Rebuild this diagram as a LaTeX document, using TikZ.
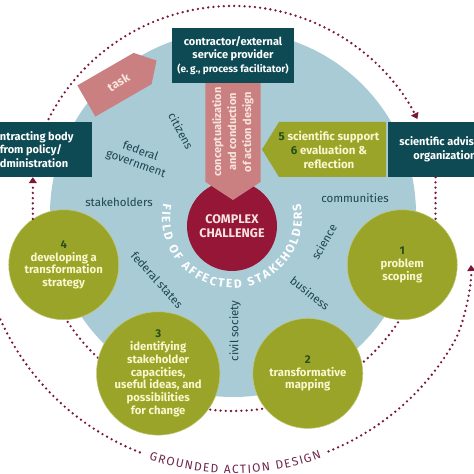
\documentclass[tikz,border=0pt]{standalone}
\usepackage{fontspec}
\setmainfont{Fira Sans}
\usetikzlibrary{positioning, arrows.meta, decorations.text}

\definecolor{fieldblue}{RGB}{168,203,214}
\definecolor{boxteal}{RGB}{14,74,84}
\definecolor{stepolive}{RGB}{154,164,40}
\definecolor{numgreen}{RGB}{38,78,30}
\definecolor{creamtext}{RGB}{250,246,205}
\definecolor{arrowpink}{RGB}{202,128,128}
\definecolor{pinktext}{RGB}{248,228,222}
\definecolor{challengered}{RGB}{150,22,56}
\definecolor{dotmaroon}{RGB}{122,24,56}
\definecolor{labelteal}{RGB}{28,68,82}
\definecolor{designtext}{RGB}{112,40,76}

\newcommand\stepnum[1]{\textcolor{numgreen}{#1}}

\begin{document}
\begin{tikzpicture}[x=1pt, y=1pt,
    tealbox/.style={fill=boxteal, text=white, font=\bfseries\fontsize{11}{13.5}\selectfont, align=center, minimum height=55, inner sep=0},
    stepcircle/.style={circle, fill=stepolive, draw=stepolive!60!white, line width=0.5pt, minimum size=110, inner sep=0, text=creamtext, align=center, font=\bfseries\fontsize{11.3}{12.8}\selectfont},
    actor/.style={text=labelteal, font=\fontsize{11.5}{13}\selectfont, align=center, inner sep=1},
    dotline/.style={dotmaroon, line width=2.6pt, line cap=round, dash pattern=on 0pt off 5.2pt},
    dottip/.style={-{Triangle[width=8pt,length=6pt]}}]
    \useasboundingbox (-233,-261) rectangle (241,213);
    \clip (-233,-261) rectangle (241,213);
    \fill[fieldblue] (0,-1) circle (183);
    \foreach \a/\b in {-17/-65, -65/-115, -115/-163}
    {
    \draw[dotline] (\a:198) arc[start angle=\a, end angle=\b, radius=198];
    }
    \draw[dotline, dottip] (153:207) arc[start angle=153, end angle=27, radius=207];
    \draw[dotline, shift={(0,-2)}] (196:255) arc[start angle=196, end angle=249, radius=255];
    \draw[dotline, dottip, shift={(0,-2)}] (292:255) arc[start angle=292, end angle=330, radius=255] .. controls (231,-110) and (239,-70) .. (238,-50);
    \path[shift={(0,-2)}, decorate, decoration={text along path, text align={fit to path}, text color=designtext, text={|\fontsize{12}{14}\selectfont|GROUNDED ACTION DESIGN}}] (251:258.5) arc[start angle=251, end angle=290, radius=258.5];

    \node[circle, fill=challengered, minimum size=90, inner sep=0, text=pinktext, align=center, font=\bfseries\fontsize{12.5}{14}\selectfont] (core) at (-1,-13) {COMPLEX\\CHALLENGE};
    \fill[arrowpink] (-27.5,130) -- (27.5,130) -- (27.5,31) -- (0,13) -- (-27.5,31) -- cycle;
    \node[rotate=90, text=pinktext, align=center, font=\bfseries\fontsize{11}{15}\selectfont] (design) at (0,81) {conceptualization\\and conduction\\of action design};
    \path[shift={(-1,-5)}, decorate, decoration={text along path, text align={fit to path}, text color=white, text={|\bfseries\fontsize{12}{14}\selectfont|FIELD OF AFFECTED STAKEHOLDERS}}] (168:70) arc[start angle=168, end angle=372, radius=70];

    \fill[stepolive] (153,91) -- (46,91) -- (29,63.5) -- (46,36) -- (153,36) -- cycle;
    \node[text=creamtext, align=center, font=\bfseries\fontsize{11.5}{14}\selectfont] (support) at (96,63) {\stepnum{5} scientific support\\\stepnum{6} evaluation \&\\reflection};
    \node[tealbox, minimum width=122] (contr) at (0,157.5) {contractor/external\\service provider\\{\fontsize{10}{12}\selectfont(e.\,g., process facilitator)}};
    \node[tealbox, minimum width=122] (cbody) at (-202,63.5) {contracting body\\from policy/\\administration};
    \node[tealbox, minimum width=114] (sadv) at (212,63.5) {scientific advisory\\organization};

    \begin{scope}[shift={(-112,132)}, rotate=30]
    \fill[arrowpink] (-40,-18) -- (25,-18) -- (41,0) -- (25,18) -- (-40,18) -- cycle;
    \node[rotate=30, text=pinktext, font=\bfseries\fontsize{12}{13}\selectfont] (task) at (-3,0) {task};
    \end{scope}

    \node[stepcircle] (s1) at (-17:177) {\stepnum{1}\\problem\\scoping};
    \node[stepcircle] (s2) at (-65:177) {\stepnum{2}\\transformative\\mapping};
    \node[stepcircle] (s3) at (-115:177) {\stepnum{3}\\identifying\\stakeholder\\capacities,\\useful ideas, and\\possibilities\\for change};
    \node[stepcircle] (s4) at (-163:177) {\stepnum{4}\\developing a\\transformation\\strategy};
    \draw[dotline, dottip] (s4.124) -- (s4.124 |- cbody.south);
    \draw[dotline] (sadv.south -| s1.53) -- (s1.53);

    \node[actor, rotate=-62] (citizens) at (-52,82) {citizens};
    \node[actor, rotate=-20] (fedgov) at (-95,55) {federal\\government};
    \node[actor] (stake) at (-114,11) {stakeholders};
    \node[actor, rotate=-48] (fedstates) at (-76,-67) {federal states};
    \node[actor, rotate=90] (civil) at (2,-118) {civil society};
    \node[actor, rotate=-38] (business) at (77,-80) {business};
    \node[actor, rotate=60] (science) at (91,-29) {science};
    \node[actor] (communities) at (122,15) {communities};
\end{tikzpicture}
\end{document}
